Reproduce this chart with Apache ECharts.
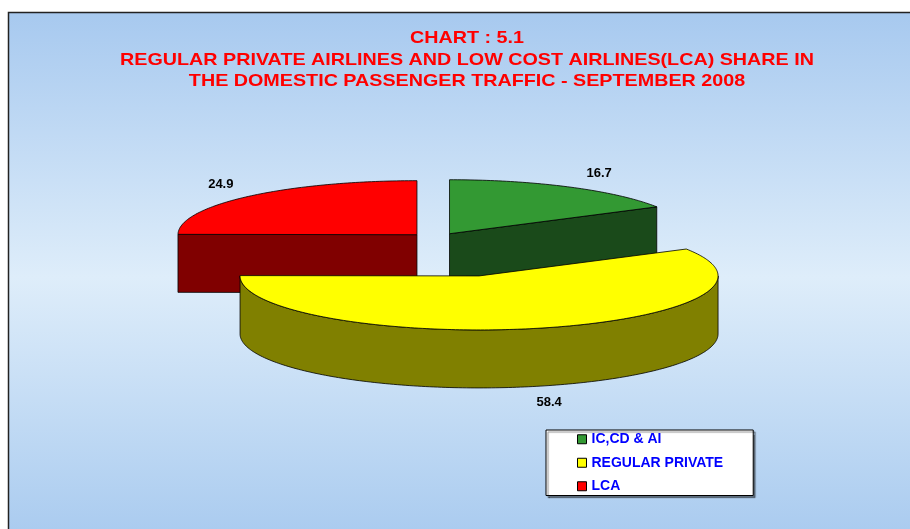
<!DOCTYPE html>
<html>
<head>
<meta charset="utf-8">
<script src="https://cdn.jsdelivr.net/npm/echarts@6/dist/echarts.min.js"></script>
<style>
html, body { margin: 0; padding: 0; background: #fff; }
#main { width: 910px; height: 529px; }
</style>
</head>
<body>
<div id="main"></div>
<script>
// data
const categories = ['IC,CD & AI', 'REGULAR PRIVATE', 'LCA'];
const shares = [16.7, 58.4, 24.9];
const titleLines = [
	'CHART : 5.1',
	'REGULAR PRIVATE AIRLINES AND LOW COST AIRLINES(LCA) SHARE IN',
	'THE DOMESTIC PASSENGER TRAFFIC - SEPTEMBER 2008'
];
const topColors = ['#339933', '#ffff00', '#ff0000'];
const sideColors = ['#1a4a1a', '#808000', '#800000'];

// 3d pie look
const cx0 = 436, cy0 = 239, rx = 239, ry = 54, depth = 58;
const explode = [27, 169, 27];

const total = shares.reduce((a, b) => a + b, 0);
let acc = 0;
const slices = shares.map(function (v) {
	const s = acc / total * 360;
	acc += v;
	return { s: s, e: acc / total * 360 };
});

function pt(c, deg, dy) {
	const r = deg * Math.PI / 180;
	return [c[0] + rx * Math.sin(r), c[1] - ry * Math.cos(r) + (dy || 0)];
}
function arc(c, a, b, dy) {
	const pts = [];
	const n = Math.max(2, Math.ceil(Math.abs(b - a)));
	for (let k = 0; k <= n; k++) pts.push(pt(c, a + (b - a) * k / n, dy));
	return pts;
}

function renderSlice(i) {
	return function (params, api) {
		const sl = slices[i];
		const mid = (sl.s + sl.e) / 2, mr = mid * Math.PI / 180;
		const c = [cx0 + explode[i] * Math.sin(mr), cy0 - explode[i] * Math.cos(mr) * ry / rx];
		const line = { stroke: '#000', lineWidth: 0.8 };
		const children = [];
		// flat cut faces that look at the viewer
		[[sl.s, sl.s - 90], [sl.e, sl.e + 90]].forEach(function (f) {
			if (Math.cos(f[1] * Math.PI / 180) < -0.01) {
				children.push({
					type: 'polygon',
					shape: { points: [c, pt(c, f[0]), pt(c, f[0], depth), [c[0], c[1] + depth]] },
					style: Object.assign({ fill: sideColors[i] }, line)
				});
			}
		});
		// front wall
		const wa = Math.max(sl.s, 90), wb = Math.min(sl.e, 270);
		if (wb > wa) {
			children.push({
				type: 'polygon',
				shape: { points: arc(c, wa, wb).concat(arc(c, wb, wa, depth)) },
				style: Object.assign({ fill: sideColors[i] }, line)
			});
		}
		// top
		children.push({
			type: 'polygon',
			shape: { points: [c].concat(arc(c, sl.s, sl.e)) },
			style: Object.assign({ fill: topColors[i] }, line)
		});
		// value label
		const k = 1.2;
		const front = Math.cos(mr) < 0;
		children.push({
			type: 'text',
			style: {
				text: api.value(0).toFixed(1),
				x: c[0] + rx * k * Math.sin(mr) + (front ? -3 : 6),
				y: c[1] - ry * k * Math.cos(mr) + (front ? depth + 6 : -4),
				fill: '#000',
				font: 'bold 13px "Liberation Sans", Arial, sans-serif',
				align: 'center',
				verticalAlign: 'middle'
			}
		});
		return { type: 'group', children: children };
	};
}

const drawOrder = [0, 2, 1];
const series = drawOrder.map(function (i) {
	return {
		type: 'custom',
		name: categories[i],
		coordinateSystem: 'none',
		itemStyle: { color: topColors[i] },
		data: [[shares[i]]],
		renderItem: renderSlice(i)
	};
});

const titleY = [38, 60.5, 81.5];
const titleText = titleLines.map(function (t, i) {
	return {
		type: 'text',
		x: 467,
		y: titleY[i],
		scaleX: 1.16,
		silent: true,
		style: {
			text: t,
			fill: '#ff0000',
			font: 'bold 17px "Liberation Sans", Arial, sans-serif',
			align: 'center',
			verticalAlign: 'middle'
		}
	};
});

const chart = echarts.init(document.getElementById('main'));
chart.setOption({
	animation: false,
	graphic: [{
		type: 'rect',
		z: -10,
		silent: true,
		shape: { x: 8.5, y: 12.5, width: 912, height: 530 },
		style: {
			fill: {
				type: 'linear', x: 0, y: 0, x2: 0, y2: 1,
				colorStops: [
					{ offset: 0, color: '#a7c9ef' },
					{ offset: 0.5, color: '#deedfa' },
					{ offset: 1, color: '#a8caef' }
				]
			},
			stroke: '#222',
			lineWidth: 1.5
		}
	}].concat(titleText),
	legend: {
		data: categories,
		orient: 'vertical',
		left: 546,
		top: 430,
		padding: [2, 30, 2, 31],
		itemGap: 9,
		itemWidth: 9,
		itemHeight: 9,
		icon: 'rect',
		backgroundColor: '#fff',
		borderColor: '#000',
		borderWidth: 1,
		shadowColor: 'rgba(0,0,0,0.45)',
		shadowOffsetX: 2,
		shadowOffsetY: 2,
		shadowBlur: 1,
		itemStyle: { borderColor: '#000', borderWidth: 1 },
		textStyle: {
			color: '#0000ff',
			fontFamily: '"Liberation Sans", Arial, sans-serif',
			fontWeight: 'bold',
			fontSize: 14,
			lineHeight: 14.5
		}
	},
	series: series
});
</script>
</body>
</html>
